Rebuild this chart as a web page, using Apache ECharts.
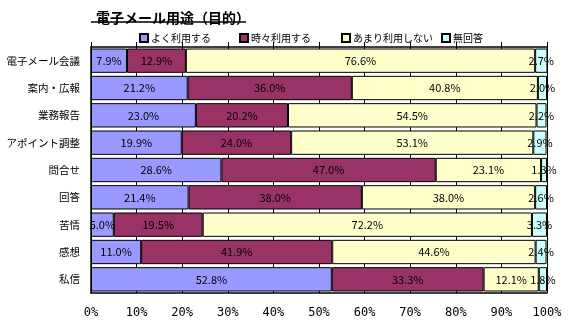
<!DOCTYPE html>
<html><head><meta charset="utf-8">
<script src="https://cdn.jsdelivr.net/npm/echarts@6/dist/echarts.min.js"></script>
<style>html,body{margin:0;padding:0;background:#fff}#c{width:576px;height:333px}</style>
</head><body><div id="c"></div>
<script>
const categories = ['電子メール会議','案内・広報','業務報告','アポイント調整','問合せ','回答','苦情','感想','私信'];
const seriesNames = ['よく利用する','時々利用する','あまり利用しない','無回答'];
const often = [7.9,21.2,23.0,19.9,28.6,21.4,5.0,11.0,52.8];
const sometimes = [12.9,36.0,20.2,24.0,47.0,38.0,19.5,41.9,33.3];
const rarely = [76.6,40.8,54.5,53.1,23.1,38.0,72.2,44.6,12.1];
const noAnswer = [2.7,2.0,2.2,2.9,1.3,2.6,3.3,2.4,1.8];
const tickValues = [0,10,20,30,40,50,60,70,80,90,100];
const colors = ['#9999FF','#993366','#FFFFCC','#CCFFFF'];
const values = [often, sometimes, rarely, noAnswer];
const FONT = '"Noto Sans CJK JP", sans-serif';

const chart = echarts.init(document.getElementById('c'), null, {renderer:'canvas'});
const legendLefts = [134, 234, 336, 436];
const option = {
  animation:false,
  textStyle:{fontFamily:FONT},
  title:{text:'電子メール用途（目的）', left:91, top:6,
    textStyle:{fontSize:14, fontWeight:'bold', color:'#000', fontFamily:FONT}},
  graphic:[{type:'line', shape:{x1:91,y1:22,x2:246,y2:22}, style:{stroke:'#000', lineWidth:1.5}}],
  legend: seriesNames.map((n,i)=>({data:[{name:n, icon:'rect'}], left:legendLefts[i], top:28, itemWidth:8, itemHeight:8,
    itemGap:0, textStyle:{fontSize:10, color:'#000', fontFamily:FONT, padding:[0,0,0,-2]}})),
  grid:{left:91, right:29, top:47, bottom:40, containLabel:false},
  xAxis:[{type:'value', min:0, max:100, interval:10, position:'bottom',
    axisLine:{show:true, lineStyle:{color:'#000', width:1.5}}, axisTick:{show:false},
    axisLabel:{formatter:'{value}%', color:'#000', fontSize:12, margin:14, fontFamily:'"DejaVu Sans Mono", monospace'},
    splitLine:{show:true, lineStyle:{color:'#000', width:1}}},
   {type:'value', min:0, max:100, interval:10, position:'top',
    axisLine:{show:true, lineStyle:{color:'#000', width:1.5}},
    axisTick:{show:true, inside:false, length:5, lineStyle:{color:'#000'}},
    axisLabel:{show:false}, splitLine:{show:false}}],
  yAxis:{type:'category', data:categories, inverse:true,
    axisLine:{show:true, lineStyle:{color:'#000', width:1.5}}, axisTick:{show:false},
    axisLabel:{color:'#000', fontSize:10.5, margin:11, fontFamily:FONT}},
  series: seriesNames.map((n,i)=>({name:n, type:'bar', stack:'s', data:values[i],
    barCategoryGap:'11%',
    itemStyle:{color:colors[i], borderColor:'#000', borderWidth:1},
    label:{show:true, position:'inside', color:'#000', fontSize:11, fontFamily:FONT,
      formatter:p=>p.value.toFixed(1)+'%'}}))
};
chart.setOption(option);
</script></body></html>
